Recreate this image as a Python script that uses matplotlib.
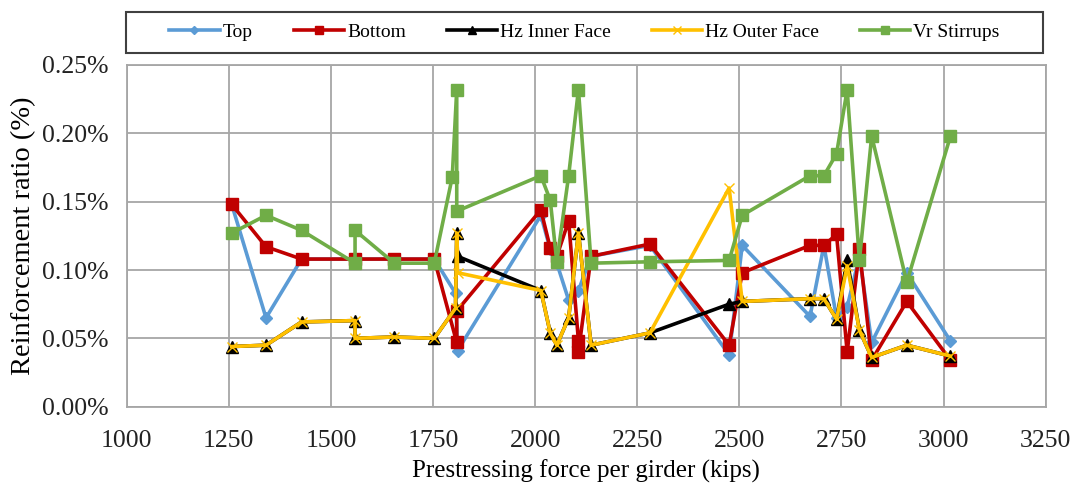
import matplotlib
matplotlib.use('Agg')
import matplotlib.pyplot as plt
from matplotlib.patches import Rectangle
from matplotlib.ticker import FuncFormatter, MultipleLocator

plt.rcParams['font.family'] = ['Liberation Serif', 'DejaVu Serif']

# prestressing force (kips) and reinforcement ratio (%) for each series
top_x = [1257, 1341, 1428, 1559, 1655, 1753, 1805, 1810, 2014, 2037, 2053, 2082, 2106, 2137,
         2281, 2475, 2507, 2673, 2707, 2738, 2764, 2794, 2824, 2910, 3017]
top_y = [0.148, 0.065, 0.108, 0.108, 0.108, 0.108, 0.083, 0.041, 0.140, 0.115, 0.105, 0.078, 0.085, 0.110,
         0.118, 0.038, 0.118, 0.066, 0.118, 0.065, 0.073, 0.110, 0.047, 0.098, 0.048]

bot_x = [1257, 1341, 1428, 1559, 1655, 1753, 1808, 1808, 2014, 2037, 2053, 2082, 2106, 2106, 2137,
         2281, 2475, 2507, 2673, 2707, 2738, 2764, 2794, 2824, 2910, 3017]
bot_y = [0.148, 0.117, 0.108, 0.108, 0.108, 0.108, 0.047, 0.070, 0.144, 0.116, 0.110, 0.136, 0.048, 0.040, 0.110,
         0.119, 0.045, 0.098, 0.118, 0.118, 0.126, 0.040, 0.115, 0.034, 0.077, 0.034]

hz_x = [1257, 1341, 1428, 1559, 1559, 1655, 1753, 1805, 1808, 1810, 2014, 2037, 2053, 2082, 2106, 2137,
        2281, 2475, 2507, 2673, 2707, 2738, 2764, 2794, 2824, 2910, 3017]
hz_in_y = [0.044, 0.045, 0.062, 0.063, 0.050, 0.051, 0.050, 0.072, 0.127, 0.110, 0.085, 0.054, 0.045, 0.065,
           0.127, 0.045, 0.054, 0.075, 0.077, 0.079, 0.079, 0.064, 0.107, 0.056, 0.036, 0.045, 0.037]
hz_out_y = [0.044, 0.045, 0.062, 0.063, 0.050, 0.051, 0.050, 0.072, 0.127, 0.098, 0.085, 0.054, 0.045, 0.065,
            0.127, 0.045, 0.054, 0.160, 0.077, 0.079, 0.079, 0.064, 0.103, 0.056, 0.036, 0.045, 0.037]

vr_x = [1257, 1341, 1428, 1559, 1559, 1655, 1753, 1797, 1808, 1808, 2014, 2037, 2053, 2082, 2106, 2137,
        2281, 2475, 2507, 2673, 2707, 2738, 2764, 2794, 2824, 2910, 3017]
vr_y = [0.127, 0.140, 0.129, 0.105, 0.129, 0.105, 0.105, 0.168, 0.232, 0.143, 0.169, 0.151, 0.106, 0.169,
        0.232, 0.105, 0.106, 0.107, 0.140, 0.169, 0.169, 0.185, 0.232, 0.107, 0.198, 0.091, 0.198]

labels = ['Top', 'Bottom', 'Hz Inner Face', 'Hz Outer Face', 'Vr Stirrups']

fig = plt.figure(figsize=(10.76, 4.91), dpi=100)
ax = fig.add_axes([0.1178, 0.1717, 0.854, 0.696])

lw = 2.6
h1, = ax.plot(top_x, top_y, color='#5B9BD5', lw=lw, marker='D', ms=6, label=labels[0])
h2, = ax.plot(bot_x, bot_y, color='#C00000', lw=lw, marker='s', ms=8, label=labels[1])
h3, = ax.plot(hz_x, hz_in_y, color='black', lw=lw, marker='^', ms=8.5, label=labels[2])
h4, = ax.plot(hz_x, hz_out_y, color='#FFC000', lw=lw, marker='x', ms=7.5, mew=1, label=labels[3])
h5, = ax.plot(vr_x, vr_y, color='#70AD47', lw=lw, marker='s', ms=8, label=labels[4])

ax.set_xlim(1000, 3250)
ax.set_ylim(0, 0.25)
ax.xaxis.set_major_locator(MultipleLocator(250))
ax.yaxis.set_major_locator(MultipleLocator(0.05))
ax.yaxis.set_major_formatter(FuncFormatter(lambda v, p: f'{v:.2f}%'))
ax.tick_params(length=0, labelsize=18.5, colors='#222222')
ax.tick_params(axis='y', pad=13)
ax.tick_params(axis='x', pad=17)
ax.grid(True, color='#A6A6A6', lw=1.3)
ax.set_axisbelow(True)
for s in ax.spines.values():
    s.set_color('#A6A6A6')
    s.set_linewidth(1.3)

ax.set_xlabel('Prestressing force per girder (kips)', fontsize=18, labelpad=5)
ax.set_ylabel('Reinforcement ratio (%)', fontsize=20.5, labelpad=4)

# legend box above the plot
fig.patches.append(Rectangle((126 / 1076, 1 - 53 / 491), (1043 - 126) / 1076, 41 / 491,
                             transform=fig.transFigure, fill=False, edgecolor='#404040', lw=1.5))
fig.legend([h1, h2, h3, h4, h5], labels, loc='center',
           bbox_to_anchor=((126 + 1043) / 2 / 1076, 1 - 32.5 / 491),
           ncol=5, frameon=False, fontsize=14, handlelength=2.6, handletextpad=0.15,
           columnspacing=2.1, markerscale=0.7)

fig.savefig('out.png', dpi=100)
